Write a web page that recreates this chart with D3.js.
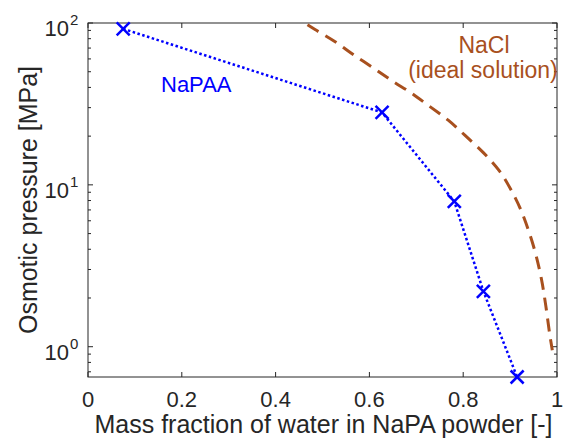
<!DOCTYPE html>
<html><head><meta charset="utf-8">
<script src="https://cdn.jsdelivr.net/npm/d3@7"></script>
<style>
body{margin:0;background:#fff}
text{font-family:"Liberation Sans", Arial, Helvetica, sans-serif}
</style>
</head><body>
<svg id="c" width="570" height="440"></svg>
<script>
// ---- data ----
const napaaX = [0.075, 0.627, 0.781, 0.843, 0.915];
const napaaY = [92, 28, 7.9, 2.2, 0.65];
const naclX = [0.468, 0.485, 0.527, 0.567, 0.610, 0.650, 0.689, 0.726, 0.768, 0.804, 0.844, 0.878, 0.903, 0.923, 0.940, 0.955, 0.967, 0.976, 0.984, 0.990];
const naclY = [97.5, 90.8, 76.6, 63.4, 52.4, 43.6, 37.0, 30.9, 25.1, 20.2, 15.7, 12.1, 9.2, 7.0, 5.15, 3.7, 2.6, 1.8, 1.22, 0.95];
const xTicks = [0, 0.2, 0.4, 0.6, 0.8, 1];
const xTickLabels = ["0", "0.2", "0.4", "0.6", "0.8", "1"];
const yTicks = [1, 10, 100];
const yTickExponents = ["0", "1", "2"];
const yMinorTicks = [0.7, 0.8, 0.9, 2, 3, 4, 5, 6, 7, 8, 9, 20, 30, 40, 50, 60, 70, 80, 90];

// ---- layout ----
const L = 88, R = 557, T = 23, B = 377;
const axisColor = "#262626";
const blue = "#0000ff";
const brown = "rgb(168,80,30)";

const svg = d3.select("#c");
const x = d3.scaleLinear().domain([0, 1]).range([L, R]);
const y = d3.scaleLog().domain([0.65, 100]).range([B, T]);

// axes box
svg.append("rect").attr("x", L).attr("y", T).attr("width", R - L).attr("height", B - T)
  .attr("fill", "none").attr("stroke", axisColor).attr("stroke-width", 1);

// x ticks (bottom and top, inward)
const gx = svg.append("g").attr("stroke", axisColor).attr("stroke-width", 1);
xTicks.forEach(t => {
  gx.append("line").attr("x1", x(t)).attr("x2", x(t)).attr("y1", B).attr("y2", B - 5);
  gx.append("line").attr("x1", x(t)).attr("x2", x(t)).attr("y1", T).attr("y2", T + 5);
});
svg.append("g").selectAll("text").data(xTicks).join("text")
  .attr("x", d => x(d)).attr("y", 407).attr("text-anchor", "middle")
  .attr("font-size", 22).attr("fill", axisColor)
  .text((d, i) => xTickLabels[i]);

// y ticks (left and right, inward)
const gy = svg.append("g").attr("stroke", axisColor).attr("stroke-width", 1);
yTicks.forEach(t => {
  gy.append("line").attr("x1", L).attr("x2", L + 5).attr("y1", y(t)).attr("y2", y(t));
  gy.append("line").attr("x1", R).attr("x2", R - 5).attr("y1", y(t)).attr("y2", y(t));
});
yMinorTicks.forEach(t => {
  gy.append("line").attr("x1", L).attr("x2", L + 3).attr("y1", y(t)).attr("y2", y(t));
  gy.append("line").attr("x1", R).attr("x2", R - 3).attr("y1", y(t)).attr("y2", y(t));
});
const yl = svg.append("g").attr("fill", axisColor);
yTicks.forEach((t, i) => {
  yl.append("text").attr("x", 69).attr("y", y(t) + 13).attr("text-anchor", "end")
    .attr("font-size", 22).text("10");
  yl.append("text").attr("x", 70).attr("y", y(t) + 2).attr("text-anchor", "start")
    .attr("font-size", 15).text(yTickExponents[i]);
});

// axis labels
svg.append("text").attr("x", (L + R) / 2 + 1).attr("y", 433).attr("text-anchor", "middle")
  .attr("font-size", 25).attr("fill", axisColor).text("Mass fraction of water in NaPA powder [-]");
svg.append("text").attr("transform", `translate(37,${(T + B) / 2}) rotate(-90)`)
  .attr("text-anchor", "middle").attr("font-size", 25).attr("fill", axisColor)
  .text("Osmotic pressure [MPa]");

// NaCl dashed curve
const naclData = naclX.map((v, i) => [v, naclY[i]]);
svg.append("path").datum(naclData)
  .attr("d", d3.line().x(d => x(d[0])).y(d => y(d[1])).curve(d3.curveCatmullRom))
  .attr("fill", "none").attr("stroke", brown).attr("stroke-width", 3)
  .attr("stroke-dasharray", "13,8");

// NaPAA dotted line
const napaaData = napaaX.map((v, i) => [v, napaaY[i]]);
svg.append("path").datum(napaaData)
  .attr("d", d3.line().x(d => x(d[0])).y(d => y(d[1])))
  .attr("fill", "none").attr("stroke", blue).attr("stroke-width", 2.5)
  .attr("stroke-dasharray", "2.5,2.5");

// markers
const s = 6.5;
const mk = svg.append("g").attr("stroke", blue).attr("stroke-width", 2.5);
napaaData.forEach(d => {
  const cx = x(d[0]), cy = y(d[1]);
  mk.append("line").attr("x1", cx - s).attr("y1", cy - s).attr("x2", cx + s).attr("y2", cy + s);
  mk.append("line").attr("x1", cx - s).attr("y1", cy + s).attr("x2", cx + s).attr("y2", cy - s);
});

// annotations
svg.append("text").attr("x", 161).attr("y", 92).attr("font-size", 22).attr("fill", blue).text("NaPAA");
svg.append("text").attr("x", 484).attr("y", 53).attr("text-anchor", "middle")
  .attr("font-size", 23).attr("fill", brown).text("NaCl");
svg.append("text").attr("x", 483).attr("y", 78).attr("text-anchor", "middle")
  .attr("font-size", 23).attr("fill", brown).text("(ideal solution)");
</script>
</body></html>
